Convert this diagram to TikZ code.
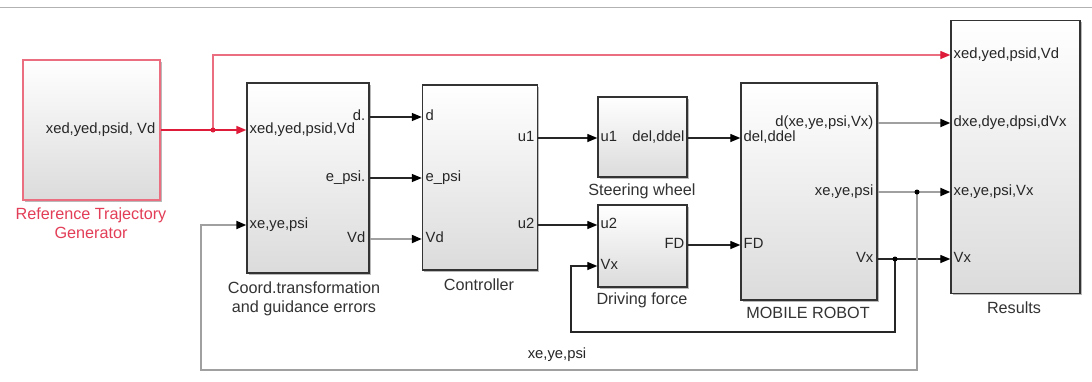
\documentclass[tikz,border=0pt]{standalone}
\usepackage{fontspec}
\setmainfont{Liberation Sans}
\usetikzlibrary{arrows.meta,shadows}
\definecolor{refred}{RGB}{222,28,58}
\definecolor{refpink}{RGB}{234,110,128}
\definecolor{vecgray}{RGB}{160,160,160}
\begin{document}
\begin{tikzpicture}[
  x=1pt, y=-1pt,
  block/.style={draw=black!80, line width=1.4pt, top color=white, bottom color=gray!28, inner sep=0pt,
    drop shadow={shadow xshift=1.5pt, shadow yshift=-1.5pt, fill=gray!55, opacity=1}},
  port/.style={font=\fontsize{14.8}{17}\selectfont, text=black!85, inner sep=1.5pt, text height=10pt, text depth=3pt},
  blocklabel/.style={font=\fontsize{16.2}{19}\selectfont, text=black!80, align=center},
  sig/.style={-{Triangle[length=10pt,width=8pt,color=black]}, line width=1.3pt, draw=black!85},
  vec/.style={sig, draw=vecgray, line width=2pt},
  refsig/.style={-{Triangle[length=10pt,width=8pt,color=refred]}, line width=1.6pt, draw=refred},
  refbranch/.style={refsig, line width=1.3pt, draw=refpink},
  dot/.style={circle, fill=#1, inner sep=0pt, minimum size=5pt}
]
\fill[white] (0,0) rectangle (1092,381);
\useasboundingbox (0,0) rectangle (1092,381);
\draw[gray!60, line width=1pt] (0,7) -- (1092,7);

\node[block, draw=refpink, minimum width=137, minimum height=140] (ref) at (91.5,130) {};
\node[block, minimum width=122, minimum height=190] (coord) at (308,178) {};
\node[block, minimum width=115, minimum height=185] (ctrl) at (480,177.5) {};
\node[block, minimum width=89, minimum height=80] (steer) at (642.5,137) {};
\node[block, minimum width=89, minimum height=82] (drive) at (642.5,246) {};
\node[block, minimum width=136, minimum height=217] (robot) at (809,191.5) {};
\node[block, minimum width=129, minimum height=273] (res) at (1015.5,157) {};

\node[port, anchor=east] (refout) at (157,130) {xed,yed,psid, Vd};

\node[port, anchor=west] (cin1) at (248,130) {xed,yed,psid,Vd};
\node[port, anchor=west] (cin2) at (248,225) {xe,ye,psi};
\node[port, anchor=east] (cout1) at (367,117) {d.};
\node[port, anchor=east] (cout2) at (367,178) {e\_psi.};
\node[port, anchor=east] (cout3) at (367,239) {Vd};

\node[port, anchor=west] (ctin1) at (424,117) {d};
\node[port, anchor=west] (ctin2) at (424,178) {e\_psi};
\node[port, anchor=west] (ctin3) at (424,239) {Vd};
\node[port, anchor=east] (ctout1) at (536,138) {u1};
\node[port, anchor=east] (ctout2) at (536,225) {u2};

\node[port, anchor=west] (swin) at (599,138) {u1};
\node[port, anchor=east] (swout) at (686,138) {del,ddel};

\node[port, anchor=west] (dfin1) at (599,225) {u2};
\node[port, anchor=west] (dfin2) at (599,266) {Vx};
\node[port, anchor=east] (dfout) at (686,245) {FD};

\node[port, anchor=west] (rbin1) at (742,138) {del,ddel};
\node[port, anchor=west] (rbin2) at (742,245) {FD};
\node[port, anchor=east] (rbout1) at (875,123) {d(xe,ye,psi,Vx)};
\node[port, anchor=east] (rbout2) at (875,192) {xe,ye,psi};
\node[port, anchor=east] (rbout3) at (875,259) {Vx};

\node[port, anchor=west] (rin1) at (952,55) {xed,yed,psid,Vd};
\node[port, anchor=west] (rin2) at (952,123) {dxe,dye,dpsi,dVx};
\node[port, anchor=west] (rin3) at (952,192) {xe,ye,psi,Vx};
\node[port, anchor=west] (rin4) at (952,259) {Vx};

\node[blocklabel, text=refred!85] (reflbl) at (91,223) {Reference Trajectory\\Generator};
\node[blocklabel] (coordlbl) at (304,299) {Coord.transformation\\and guidance errors};
\node[blocklabel] (ctrllbl) at (479,285) {Controller};
\node[blocklabel] (steerlbl) at (642,191) {Steering wheel};
\node[blocklabel] (drivelbl) at (642,300) {Driving force};
\node[blocklabel] (robotlbl) at (808,313) {MOBILE ROBOT};
\node[blocklabel] (reslbl) at (1014,308) {Results};
\node[port] (fblbl) at (557,355) {xe,ye,psi};

\coordinate (jref) at (213,130);
\coordinate (jvx) at (895,259);
\coordinate (jxe) at (917,192);

\draw[refsig] (ref.east |- refout) -- (coord.west |- cin1);
\draw[refbranch] (jref) |- (res.west |- rin1);
\node[dot=refred] at (jref) {};

\draw[sig] (coord.east |- cout1) -- (ctrl.west |- ctin1);
\draw[sig] (coord.east |- cout2) -- (ctrl.west |- ctin2);
\draw[vec] (coord.east |- cout3) -- (ctrl.west |- ctin3);

\draw[sig] (ctrl.east |- ctout1) -- (steer.west |- swin);
\draw[sig] (ctrl.east |- ctout2) -- (drive.west |- dfin1);
\draw[sig] (steer.east |- swout) -- (robot.west |- rbin1);
\draw[sig] (drive.east |- dfout) -- (robot.west |- rbin2);

\draw[vec] (robot.east |- rbout1) -- (res.west |- rin2);
\draw[vec] (robot.east |- rbout2) -- (res.west |- rin3);
\draw[sig] (robot.east |- rbout3) -- (res.west |- rin4);

\draw[sig] (jvx) |- (571,332) |- (drive.west |- dfin2);
\draw[vec] (jxe) |- (201,370) |- (coord.west |- cin2);
\node[dot=black] at (jvx) {};
\node[dot=black] at (jxe) {};
\end{tikzpicture}
\end{document}
